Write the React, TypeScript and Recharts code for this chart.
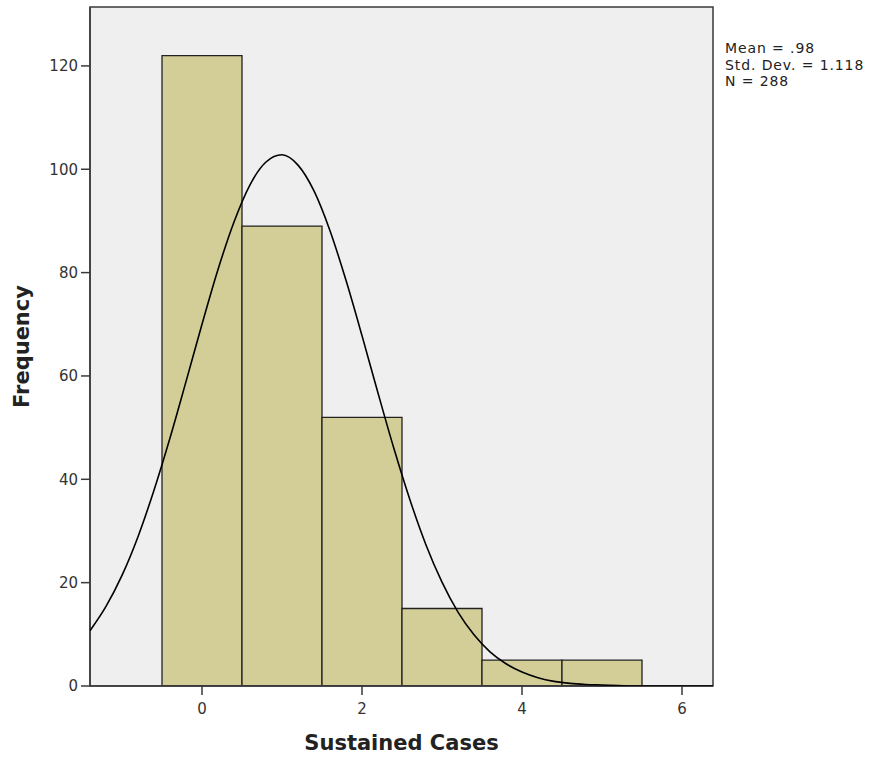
import React from 'react'
import {
  BarChart,
  Bar,
  LineChart,
  Line,
  XAxis,
  YAxis,
  CartesianGrid,
  ReferenceArea,
} from 'recharts'

// histogram bins (bin centre -> frequency)
const binCenters = [0, 1, 2, 3, 4, 5]
const frequencies = [122, 89, 52, 15, 5, 5]

// fitted normal curve
const curveX = [
  -1.4, -1.2, -1.0, -0.8, -0.6, -0.4, -0.2, 0, 0.2, 0.4, 0.6, 0.8, 1.0, 1.2, 1.4, 1.6, 1.8, 2.0,
  2.2, 2.4, 2.6, 2.8, 3.0, 3.2, 3.4, 3.6, 3.8, 4.0, 4.2, 4.4, 4.6, 4.8, 5.0, 5.2, 5.4, 5.6, 5.8,
  6.0, 6.2, 6.4,
]
const curveY = [
  10.7, 15.4, 21.4, 28.9, 37.9, 48.0, 58.9, 70.0, 80.6, 89.8, 97.0, 101.4, 102.8, 100.8, 95.8,
  88.1, 78.5, 67.8, 56.7, 45.9, 36.0, 27.3, 20.1, 14.3, 9.9, 6.6, 4.3, 2.7, 1.6, 0.9, 0.5, 0.3,
  0.2, 0.1, 0, 0, 0, 0, 0, 0,
]

const xTicks = [0, 2, 4, 6]
const yTicks = [0, 20, 40, 60, 80, 100, 120]
const statLines = ['Mean = .98', 'Std. Dev. = 1.118', 'N = 288']

const X_DOMAIN: [number, number] = [-1.4, 6.3875]
const Y_DOMAIN: [number, number] = [0, 131.4]

const W = 880
const H = 761
const FONT = '"DejaVu Sans", sans-serif'
const AXIS_COLOR = '#3a3a3a'

const barData = binCenters.map((x, i) => ({ x, count: frequencies[i] }))
const curveData = curveX.map((x, i) => ({ x, y: curveY[i] }))

const tickStyle = { fontSize: 15, fill: '#333', fontFamily: FONT }

const XLabel = ({ viewBox }: any) => (
  <text
    x={viewBox.x + viewBox.width / 2}
    y={750}
    textAnchor="middle"
    fontFamily={FONT}
    fontWeight="bold"
    fontSize={21}
    fill="#222"
  >
    Sustained Cases
  </text>
)

const YLabel = ({ viewBox }: any) => {
  const cx = 22
  const cy = viewBox.y + viewBox.height / 2
  return (
    <text
      x={cx}
      y={cy}
      transform={`rotate(-90, ${cx}, ${cy})`}
      textAnchor="middle"
      dominantBaseline="central"
      fontFamily={FONT}
      fontWeight="bold"
      fontSize={21}
      fill="#222"
    >
      Frequency
    </text>
  )
}

export default function App() {
  return (
    <div style={{ position: 'absolute', left: 0, top: 0, width: W, height: H, background: '#fff' }}>
      {/* bars + axes */}
      <div style={{ position: 'absolute', left: 0, top: 0 }}>
        <BarChart
          width={W}
          height={H}
          data={barData}
          margin={{ top: 7, right: 167, left: 30, bottom: 11 }}
          barCategoryGap={0}
          barGap={0}
        >
          <CartesianGrid fill="#efefef" horizontal={false} vertical={false} />
          <XAxis
            type="number"
            dataKey="x"
            domain={X_DOMAIN}
            ticks={xTicks}
            allowDataOverflow
            height={64}
            tickSize={9}
            tickMargin={8}
            tick={tickStyle}
            stroke={AXIS_COLOR}
            strokeWidth={1.5}
            label={<XLabel />}
          />
          <YAxis
            type="number"
            domain={Y_DOMAIN}
            ticks={yTicks}
            allowDataOverflow
            width={60}
            tickSize={9}
            tickMargin={3}
            tick={tickStyle}
            stroke={AXIS_COLOR}
            strokeWidth={1.5}
            label={<YLabel />}
          />
          <Bar
            dataKey="count"
            fill="#d3ce98"
            stroke="#222"
            strokeWidth={1.3}
            isAnimationActive={false}
          />
        </BarChart>
      </div>

      {/* normal curve + frame */}
      <div style={{ position: 'absolute', left: 0, top: 0 }}>
        <LineChart
          width={W}
          height={H}
          data={curveData}
          margin={{ top: 7, right: 167, left: 90, bottom: 75 }}
        >
          <XAxis type="number" dataKey="x" domain={X_DOMAIN} allowDataOverflow hide />
          <YAxis type="number" domain={Y_DOMAIN} allowDataOverflow hide />
          <Line
            type="monotone"
            dataKey="y"
            stroke="#000"
            strokeWidth={1.6}
            dot={false}
            activeDot={false}
            isAnimationActive={false}
          />
          <ReferenceArea
            x1={X_DOMAIN[0]}
            x2={X_DOMAIN[1]}
            y1={Y_DOMAIN[0]}
            y2={Y_DOMAIN[1]}
            fill="none"
            fillOpacity={0}
            stroke={AXIS_COLOR}
            strokeWidth={1.5}
            ifOverflow="visible"
          />
        </LineChart>
      </div>

      <div
        style={{
          position: 'absolute',
          left: 725,
          top: 40,
          fontFamily: FONT,
          fontSize: 14,
          letterSpacing: '0.9px',
          lineHeight: '16.5px',
          color: '#222',
          whiteSpace: 'nowrap',
        }}
      >
        {statLines.map((s) => (
          <div key={s}>{s}</div>
        ))}
      </div>
    </div>
  )
}
